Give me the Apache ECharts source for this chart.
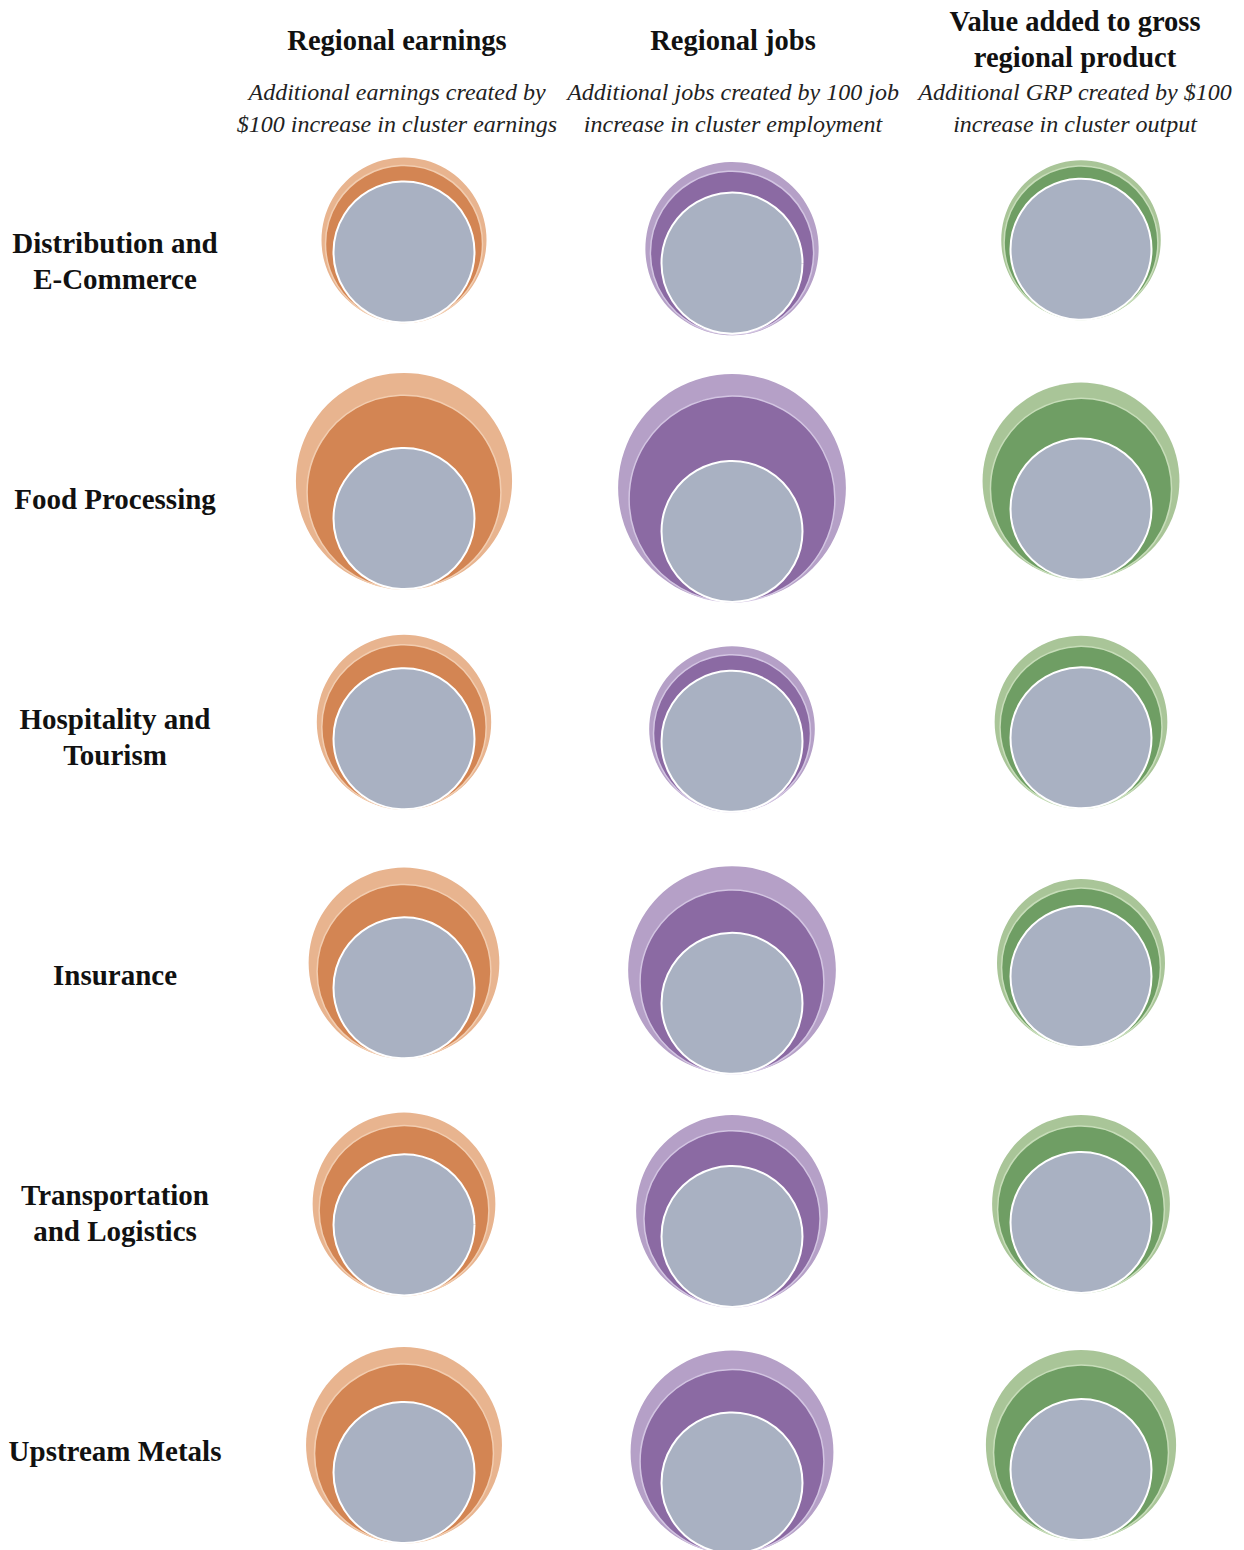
<!DOCTYPE html>
<html>
<head>
<meta charset="utf-8">
<script src="https://cdn.jsdelivr.net/npm/echarts@6/dist/echarts.min.js"></script>
<style>
  html, body { margin: 0; padding: 0; background: #ffffff; }
  #chart { width: 1244px; height: 1550px; }
</style>
</head>
<body>
<div id="chart"></div>
<script>
// ---- data (multipliers; the grey circle is the base = 1) ----
const clusters = ['Distribution and\nE-Commerce', 'Food Processing', 'Hospitality and\nTourism', 'Insurance', 'Transportation\nand Logistics', 'Upstream Metals'];
const baseValue = 1;
const earningsTotal    = [1.37, 2.35, 1.53, 1.83, 1.68, 1.93];
const earningsIndirect = [1.24, 1.89, 1.36, 1.52, 1.45, 1.61];
const jobsTotal        = [1.51, 2.61, 1.38, 2.17, 1.85, 2.07];
const jobsIndirect     = [1.34, 2.13, 1.24, 1.70, 1.56, 1.70];
const grpTotal         = [1.28, 1.95, 1.50, 1.42, 1.59, 1.82];
const grpIndirect      = [1.19, 1.65, 1.32, 1.27, 1.40, 1.54];

const columnTitles = ['Regional earnings', 'Regional jobs', 'Value added to gross\nregional product'];
const columnSubtitles = [
  'Additional earnings created by\n$100 increase in cluster earnings',
  'Additional jobs created by 100 job\nincrease in cluster employment',
  'Additional GRP created by $100\nincrease in cluster output'
];

// ---- styles / layout ----
const BASE_R = 70.5;
const SERIF = '"Liberation Serif", "Times New Roman", serif';
const columns = [
  { cx: 404, top: 240, bottom: 105, outer: '#e8b48f', inner: '#d38553', edge: '#f2cdb0', total: earningsTotal, indirect: earningsIndirect },
  { cx: 732, top: 247, bottom: 98,  outer: '#b5a0c7', inner: '#8b6aa3', edge: '#d3c5e2', total: jobsTotal, indirect: jobsIndirect },
  { cx: 1081, top: 240, bottom: 105, outer: '#a9c598', inner: '#6f9e64', edge: '#c7ddb9', total: grpTotal, indirect: grpIndirect }
];
const headerX = [397, 733, 1075];
const GREY = '#a9b1c2';

const grids = [], xAxes = [], yAxes = [], series = [];
columns.forEach((c, i) => {
  grids.push({ left: c.cx - 120, width: 240, top: c.top, bottom: c.bottom, show: false });
  xAxes.push({ gridIndex: i, type: 'value', min: -1, max: 1, show: false });
  yAxes.push({ gridIndex: i, type: 'value', min: 0, max: clusters.length - 1, inverse: true, show: false });
  series.push({
    type: 'custom',
    xAxisIndex: i,
    yAxisIndex: i,
    data: clusters.map((_, r) => [0, r, c.total[r], c.indirect[r], baseValue]),
    renderItem: function (params, api) {
      const p = api.coord([api.value(0), api.value(1)]);
      const R = BASE_R * Math.sqrt(api.value(2));
      const r2 = BASE_R * Math.sqrt(api.value(3));
      const r3 = BASE_R * Math.sqrt(api.value(4));
      const bottomY = p[1] + R;
      return {
        type: 'group',
        children: [
          { type: 'circle', shape: { cx: p[0], cy: p[1], r: R }, style: { fill: c.outer } },
          { type: 'circle', shape: { cx: p[0], cy: bottomY - r2, r: r2 }, style: { fill: c.inner, stroke: c.edge, lineWidth: 1.5 } },
          { type: 'circle', shape: { cx: p[0], cy: bottomY - r3, r: r3 }, style: { fill: GREY, stroke: '#ffffff', lineWidth: 2 } }
        ]
      };
    },
    silent: true
  });
});

// grid for the row labels
grids.push({ left: 115, width: 10, top: 261, bottom: 99, show: false });
xAxes.push({ gridIndex: 3, type: 'value', show: false });
yAxes.push({
  gridIndex: 3, type: 'category', data: clusters, inverse: true, boundaryGap: false,
  axisLine: { show: false }, axisTick: { show: false }, splitLine: { show: false },
  axisLabel: { align: 'center', margin: 0, fontFamily: SERIF, fontWeight: 'bold', fontSize: 29, color: '#111', lineHeight: 36 }
});

const graphics = [];
columnTitles.forEach((t, i) => {
  const lines = t.split('\n');
  lines.forEach((ln, k) => {
    const y = lines.length === 1 ? 40 : 21 + k * 36;
    graphics.push({ type: 'text', x: headerX[i], y: y, style: { text: ln, textAlign: 'center', textVerticalAlign: 'middle', font: 'bold 28.5px ' + SERIF, fill: '#111' } });
  });
  columnSubtitles[i].split('\n').forEach((ln, k) => {
    graphics.push({ type: 'text', x: headerX[i], y: 92 + k * 32, style: { text: ln, textAlign: 'center', textVerticalAlign: 'middle', font: 'italic 24px ' + SERIF, fill: '#222' } });
  });
});

const chart = echarts.init(document.getElementById('chart'), null, { renderer: 'svg' });
chart.setOption({
  backgroundColor: '#ffffff',
  animation: false,
  grid: grids,
  xAxis: xAxes,
  yAxis: yAxes,
  series: series,
  graphic: graphics
});
</script>
</body>
</html>
